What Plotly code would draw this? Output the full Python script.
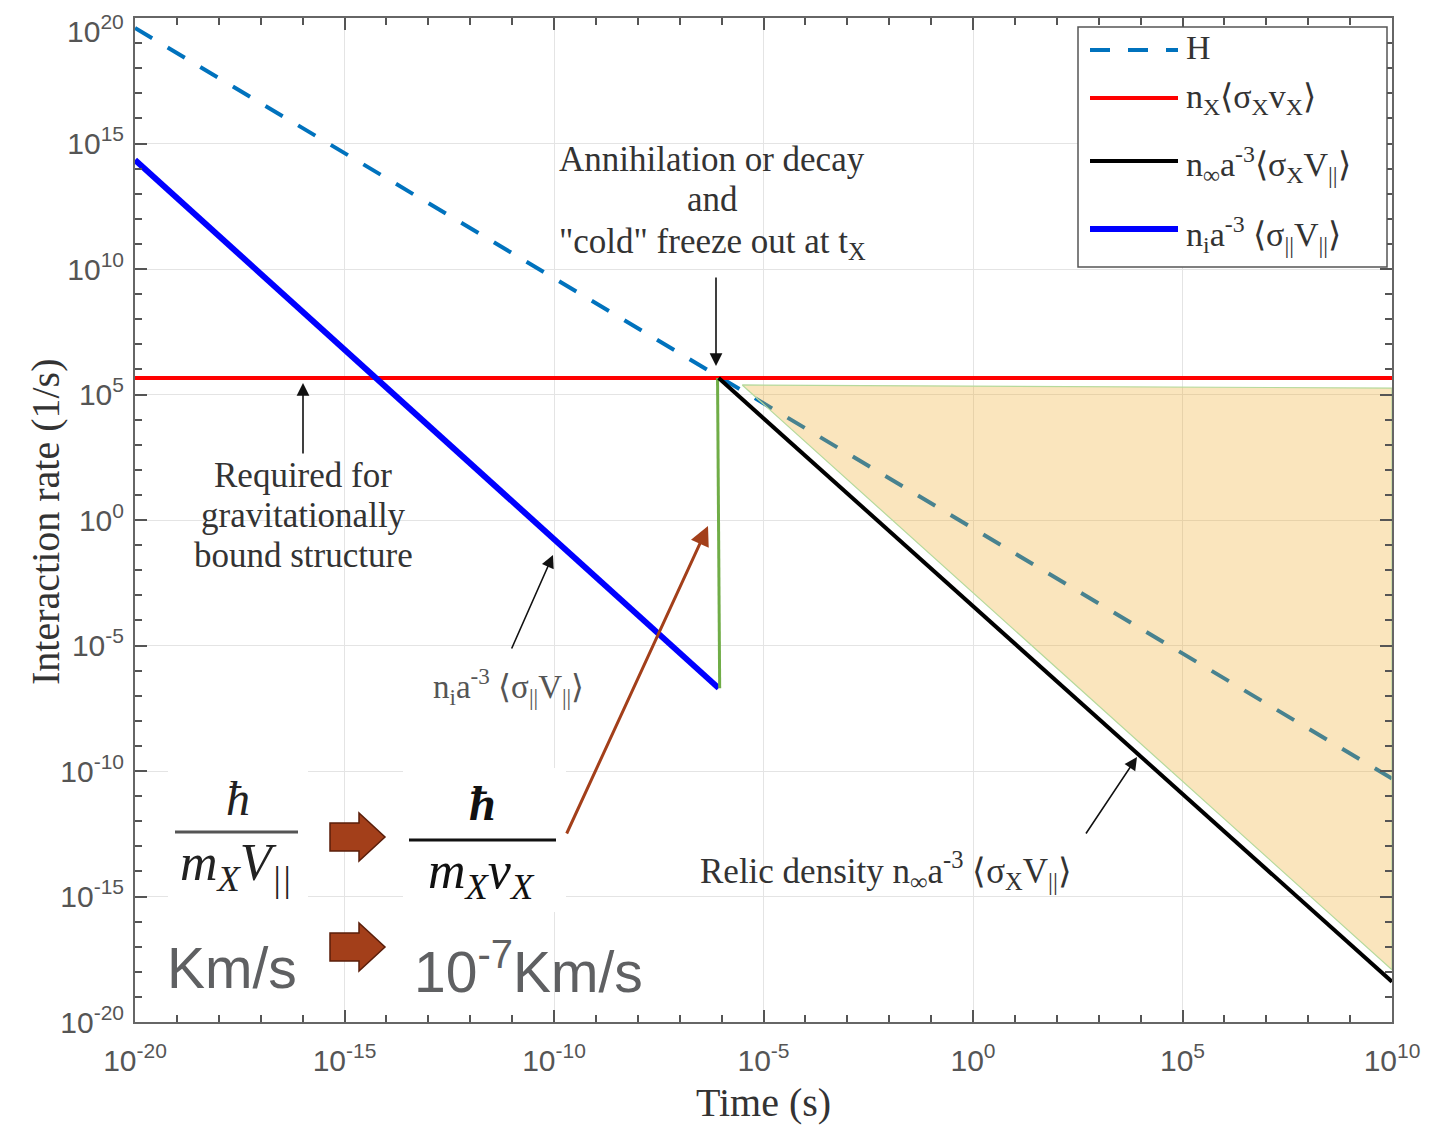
import math
import plotly.graph_objects as go

# ---------------- data ----------------
t_H = [1e-20, 1e10]
H_vals = [4.0e19, 5.0e-11]

t_red = [1e-20, 1e10]
red_vals = [4.5e5, 4.5e5]

t_blue = [1e-20, 8.5e-7]
blue_vals = [2.2e14, 2.0e-7]

t_green = [9.0e-7, 8.0e-7]
green_vals = [2.0e-7, 4.5e5]

t_black = [8.5e-7, 1e10]
black_vals = [4.5e5, 4.0e-19]

t_fill = [3.1e-6, 1e10, 1e10, 3.1e-6]
fill_vals = [2.4e5, 1.8e5, 1.2e-18, 2.4e5]

x_major_exp = [-20, -15, -10, -5, 0, 5, 10]
y_major_exp = [-20, -15, -10, -5, 0, 5, 10, 15, 20]

legend_names = [
    "H",
    "n<sub>X</sub>⟨σ<sub>X</sub>v<sub>X</sub>⟩",
    "n<sub>∞</sub>a<sup>-3</sup>⟨σ<sub>X</sub>V<sub>||</sub>⟩",
    "n<sub>i</sub>a<sup>-3</sup> ⟨σ<sub>||</sub>V<sub>||</sub>⟩",
]

freeze_lines = ["Annihilation or decay", "and", "\"cold\" freeze out at t<sub>X</sub>"]
bound_lines = ["Required for", "gravitationally", "bound structure"]

# ---------------- geometry (page pixels -> paper) ----------------
# page body has an 8px margin, so the figure is 16px smaller than the window
OFF = 8
W, H = 1431 - 2 * OFF, 1133 - 2 * OFF
PL, PR, PT, PB = 135, 1392, 18, 1022          # plot area in page pixels
L, T = PL - OFF, PT - OFF
R, B = W - (PR - OFF), H - (PB - OFF)


def px(x):
    return (x - PL) / (PR - PL)


def py(y):
    return (PB - y) / (PB - PT)


SERIF = "Liberation Serif, Times New Roman, serif"
SANS = "Liberation Sans, Arial, sans-serif"
TXT = "#333333"
TICKC = "#555555"

fig = go.Figure()

fig.add_trace(go.Scatter(x=t_H, y=H_vals, mode="lines", name=legend_names[0],
                         line=dict(color="#0072BD", width=4, dash="20px,18px"),
                         showlegend=False))
fig.add_trace(go.Scatter(x=t_fill, y=fill_vals, mode="lines", fill="toself",
                         fillcolor="rgba(238,168,35,0.30)",
                         line=dict(color="#B5D99C", width=1.2),
                         showlegend=False, hoverinfo="skip"))
fig.add_trace(go.Scatter(x=t_red, y=red_vals, mode="lines", name=legend_names[1],
                         line=dict(color="#FF0000", width=4), showlegend=False))
fig.add_trace(go.Scatter(x=t_blue, y=blue_vals, mode="lines", name=legend_names[3],
                         line=dict(color="#0000FF", width=6), showlegend=False))
fig.add_trace(go.Scatter(x=t_green, y=green_vals, mode="lines",
                         line=dict(color="#70AD47", width=3), showlegend=False))
fig.add_trace(go.Scatter(x=t_black, y=black_vals, mode="lines", name=legend_names[2],
                         line=dict(color="#000000", width=4), showlegend=False))

axis_common = dict(
    type="log", automargin=False, ticklabeloverflow="allow",
    showline=True, linecolor="#666666", linewidth=2, mirror="ticks",
    ticks="inside", ticklen=12, tickwidth=1.5, tickcolor=TICKC,
    showgrid=True, gridcolor="#E4E4E4", gridwidth=1,
    zeroline=False,
    tickfont=dict(family=SANS, size=30, color=TICKC),
)

fig.update_xaxes(
    **axis_common,
    range=[-20, 10],
    tickmode="array",
    tickvals=[10.0 ** k for k in x_major_exp],
    ticktext=["10<sup>%d</sup>" % k for k in x_major_exp],
    ticklabelstandoff=11,
    minor=dict(tickmode="array",
               tickvals=[10.0 ** k for k in range(-20, 11) if k not in x_major_exp],
               ticks="inside", ticklen=7, tickcolor=TICKC, showgrid=False),
    title=dict(text="Time (s)", font=dict(family=SERIF, size=40, color=TXT), standoff=26),
)
# the top label (10^20) would be clipped by the page edge, so it is placed as an annotation
y_ticktext = ["" if k == y_major_exp[-1] else "10<sup>%d</sup>" % k for k in y_major_exp]
fig.update_yaxes(
    **axis_common,
    range=[-20, 20],
    tickmode="array",
    tickvals=[10.0 ** k for k in y_major_exp],
    ticktext=y_ticktext,
    ticklabelstandoff=3,
    minor=dict(tickmode="array",
               tickvals=[10.0 ** k for k in range(-20, 21) if k not in y_major_exp],
               ticks="inside", ticklen=7, tickcolor=TICKC, showgrid=False),
)

shapes = []
annotations = []


def label(x, y, text, size, color=TXT, family=SERIF, xanchor="center", align="center",
          angle=0):
    annotations.append(dict(xref="paper", yref="paper", x=px(x), y=py(y),
                            xanchor=xanchor, yanchor="middle", showarrow=False,
                            align=align, text=text, textangle=angle,
                            font=dict(family=family, size=size, color=color)))


# y-axis title and the top tick label
label(45, 522, "Interaction rate (1/s)", 40, angle=-90)
label(126, 29, "10<sup>%d</sup>" % y_major_exp[-1], 30, color=TICKC, family=SANS,
      xanchor="right")

# ---------------- legend (drawn manually to get long line samples) ----------------
shapes.append(dict(type="rect", xref="paper", yref="paper",
                   x0=px(1078), x1=px(1387), y0=py(267), y1=py(27),
                   line=dict(color="#555555", width=1.5), fillcolor="white", layer="above"))
leg_rows = [(50, "#0072BD", 4, "20px,18px"), (98, "#FF0000", 4, "solid"),
            (161, "#000000", 4, "solid"), (229, "#0000FF", 6, "solid")]
leg_text_y = [48, 99, 165, 234]
for (yy, col, wd, ds), ty, name in zip(leg_rows, leg_text_y, legend_names):
    shapes.append(dict(type="line", xref="paper", yref="paper",
                       x0=px(1090), x1=px(1178), y0=py(yy), y1=py(yy),
                       line=dict(color=col, width=wd, dash=ds), layer="above"))
    label(1184, ty, name, 34, xanchor="left", align="left")

# ---------------- text annotations ----------------
for i, line in enumerate(freeze_lines):
    label(712, 160 + 40 * i + (3 if i == 2 else 0), line, 35)
for i, line in enumerate(bound_lines):
    label(303, 475 + 40 * i, line, 35)
label(508, 686, "n<sub>i</sub>a<sup>-3</sup> ⟨σ<sub>||</sub>V<sub>||</sub>⟩", 33, color="#555555")
label(886, 870, "Relic density n<sub>∞</sub>a<sup>-3</sup> ⟨σ<sub>X</sub>V<sub>||</sub>⟩", 35)


# ---------------- arrows ----------------
def arrow(x0, y0, x1, y1, color="#111111", width=1.6, size=1.6):
    annotations.append(dict(xref="paper", yref="paper", x=px(x1), y=py(y1),
                            axref="pixel", ayref="pixel", ax=x0 - x1, ay=y0 - y1,
                            text="", showarrow=True, arrowhead=2, arrowsize=size,
                            arrowwidth=width, arrowcolor=color))


arrow(716, 276, 716, 366)
arrow(303, 455, 303, 383)
arrow(511, 650, 553, 555)
arrow(1085, 835, 1137, 757)
arrow(566, 835, 708, 526, color="#A33F1A", width=3, size=1.3)

# ---------------- formula boxes ----------------
shapes.append(dict(type="rect", xref="paper", yref="paper",
                   x0=px(168), x1=px(308), y0=py(905), y1=py(768),
                   line=dict(width=0), fillcolor="white", layer="above"))
shapes.append(dict(type="rect", xref="paper", yref="paper",
                   x0=px(403), x1=px(566), y0=py(912), y1=py(768),
                   line=dict(width=0), fillcolor="white", layer="above"))
shapes.append(dict(type="line", xref="paper", yref="paper",
                   x0=px(175), x1=px(298), y0=py(832), y1=py(832),
                   line=dict(color="#555555", width=3), layer="above"))
shapes.append(dict(type="line", xref="paper", yref="paper",
                   x0=px(409), x1=px(556), y0=py(840), y1=py(840),
                   line=dict(color="#111111", width=3), layer="above"))
label(238, 798, "<i>ħ</i>", 48, color="#222222")
label(236, 866, "<i>m<sub>X</sub>V<sub>||</sub></i>", 52, color="#222222")
label(483, 803, "<b><i>ħ</i></b>", 48, color="#111111")
label(481, 874, "<i>m<sub>X</sub>v<sub>X</sub></i>", 52, color="#111111")
label(232, 968, "Km/s", 57, color="#5F6062", family=SANS)
label(528, 968, "10<sup>-7</sup>Km/s", 57, color="#5F6062", family=SANS)


# ---------------- block arrows ----------------
def block_arrow(cx, cy):
    pts = [(cx - 25, cy - 14), (cx + 4, cy - 14), (cx + 4, cy - 24), (cx + 30, cy),
           (cx + 4, cy + 24), (cx + 4, cy + 14), (cx - 25, cy + 14)]
    path = "M " + " L ".join("%.5f,%.5f" % (px(a), py(b)) for a, b in pts) + " Z"
    shapes.append(dict(type="path", xref="paper", yref="paper", path=path,
                       fillcolor="#A33F1A", line=dict(color="#5A1E0A", width=1.5),
                       layer="above"))


block_arrow(355, 837)
block_arrow(355, 947)

fig.update_layout(
    width=W, height=H,
    margin=dict(l=L, r=R, t=T, b=B),
    plot_bgcolor="white", paper_bgcolor="white",
    shapes=shapes, annotations=annotations,
    showlegend=False,
)

fig.write_html("out.html")
